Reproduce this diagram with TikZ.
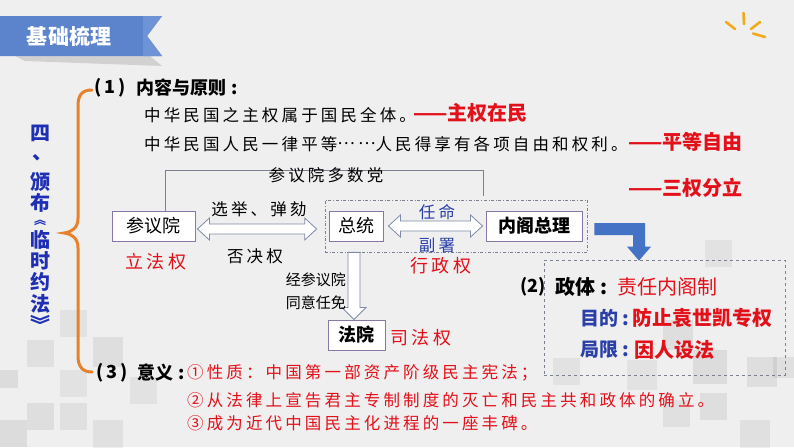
\documentclass[tikz,border=0pt]{standalone}
\usepackage{fontspec}
\setmainfont{Noto Sans CJK SC}
\newfontfamily\cjks{Noto Sans CJK SC}[LetterSpace=19]
\usetikzlibrary{calc}
\newcommand\fsz[1]{\fontsize{#1}{#1}\selectfont}
\definecolor{bgc}{HTML}{EFEFEF}
\definecolor{bannerc}{HTML}{5B84CC}
\definecolor{bannerd}{HTML}{6E93D6}
\definecolor{sunc}{HTML}{F2A91C}
\definecolor{bracec}{HTML}{E8812C}
\definecolor{titlec}{HTML}{1E2FB5}
\definecolor{redc}{HTML}{E3101A}
\definecolor{lblue}{HTML}{2A40A8}
\definecolor{boxc}{HTML}{8878A8}
\definecolor{linec}{HTML}{7A8090}
\definecolor{arrc}{HTML}{7F8AA8}
\definecolor{bluearr}{HTML}{4472C4}
\newcommand\hdarrow[2]{\path[harrow] let \p1=(#1), \p2=(#2) in
  (\x1,\y1) -- (\x1+12pt,\y1+11pt) -- (\x1+12pt,\y1+5pt) -- (\x2-12pt,\y2+5pt) -- (\x2-12pt,\y2+11pt) -- (\x2,\y2)
  -- (\x2-12pt,\y2-11pt) -- (\x2-12pt,\y2-5pt) -- (\x1+12pt,\y1-5pt) -- (\x1+12pt,\y1-11pt) -- cycle;}
\begin{document}
\begin{tikzpicture}[x=1pt,y=-1pt,
  txt/.style={inner sep=0, font=\cjks\fsz{16.5}},
  boxn/.style={draw=boxc, line width=0.9pt, fill=white, inner sep=0, font=\fsz{18}},
  harrow/.style={draw=arrc, line width=0.8pt, fill=white},
  redb/.style={inner sep=0, text=redc, font=\bfseries\fsz{20}},
  sq/.style={fill=black, opacity=0.07}]
\useasboundingbox (0,0) rectangle (794,447);
\fill[bgc] (0,0) rectangle (794,447);
% faint squares
\foreach \x/\y/\s/\o in {0/370/18/0.08, 27/340/27/0.06, 60/310/27/0.05, 93/337/30/0.07, 60/370/27/0.05, 27/403/27/0.07, 60/403/27/0.06, 130/377/27/0.05, 0/420/27/0.08, 93/420/30/0.06,
  663/320/30/0.07, 693/350/34/0.08, 747/357/30/0.07, 773/357/21/0.06, 700/393/27/0.07, 663/400/27/0.06, 627/360/30/0.05, 553/358/27/0.05, 705/240/27/0.05, 740/420/30/0.06}
  \fill[sq, opacity=\o] (\x,\y) rectangle ++(\s,\s);
% banner
\fill[black, opacity=0.12] (15,56) -- (150,56) -- (162,66) -- (25,61) -- cycle;
\fill[bannerc] (0,16) -- (162,16) -- (147,36) -- (162,56) -- (0,56) -- cycle;
\fill[bannerd] (143,16) -- (162,16) -- (147,36) -- (162,56) -- (143,56) -- cycle;
\node[inner sep=0, text=white, font=\bfseries\fsz{21}] (ban) at (69,36) {基础梳理};
% sun icon
\draw[sunc, line width=2.6pt, line cap=round] (726,22) -- (735,29) (743.5,13) -- (744,24) (751,29) -- (760,22) (753,33.5) -- (765,37);
% brace
\draw[bracec, line width=3pt, line cap=round] (92,90) .. controls (82,90) and (78,95) .. (78,106) -- (78,218)
  .. controls (78,228) and (72,232) .. (64,233) .. controls (72,234) and (78,238) .. (78,248) -- (78,356)
  .. controls (78,366) and (82,372) .. (92,372);
% vertical title
\begin{scope}[every node/.style={inner sep=0, text=titlec, font=\bfseries\fsz{20}}]
\node (t1) at (40,133) {四};
\node (t2) at (42,158) {、};
\node (t3) at (40,182) {颁};
\node (t4) at (40,203) {布};
\node[font=\bfseries\fsz{12}] (t4b) at (40,223) {︽};
\node (t5) at (40,240) {临};
\node (t6) at (40,261) {时};
\node (t7) at (40,282) {约};
\node (t8) at (40,304) {法};
\node (t9) at (40,324) {︾};
\end{scope}
% (1)
\node[inner sep=0, anchor=west, font=\bfseries\fsz{18}] (h1n) at (94,88) {(\,1\,)};
\node[inner sep=0, anchor=west, font=\bfseries\fsz{18}] (h1) at (136,88) {内容与原则\hspace{5pt}:};
\node[txt, anchor=west] (l1) at (144,115) {中华民国之主权属于国民全体。};
\node[redb, anchor=west] (r1) at (413,113) {——主权在民};
\node[txt, anchor=west] (l2) at (144,144) {中华民国人民一律平等\raisebox{5.5pt}{……}人民得享有各项自由和权利。};
\node[redb, anchor=west] (r2) at (628,142) {——平等自由};
\node[redb, anchor=west] (r3) at (628,188) {——三权分立};
% diagram boxes
\node[boxn, minimum width=83, minimum height=30] (sy) at (153.5,226) {参议院};
\node[boxn, minimum width=54, minimum height=30] (zt) at (356,226) {总统};
\node[boxn, minimum width=96, minimum height=30, font=\bfseries\fsz{18}] (ng) at (534,226) {内阁总理};
\node[boxn, minimum width=57, minimum height=30, font=\bfseries\fsz{18}] (fy) at (356.5,335) {法院};
\node[draw=linec, dash dot, line width=0.7pt, minimum width=262, minimum height=52, inner sep=0] (xz) at (456,226) {};
% top connector
\coordinate (c1) at (483,170);
\draw[linec, line width=0.6pt] ($(sy.north)+(11.5,0)$) |- (c1) -- ($(c1 |- xz.north)+(0,-4)$);
\node[txt] (dsd) at (326,175) {参议院多数党};
% double arrows
\coordinate (a1) at ($(sy.east)+(2,3)$);
\coordinate (a2) at ($(xz.west)+(-8,3)$);
\hdarrow{a1}{a2}
\coordinate (b1) at ($(zt.east)+(5,0)$);
\coordinate (b2) at ($(ng.west)+(-3,0)$);
\hdarrow{b1}{b2}
\node[txt] (xj) at (259,209) {选举、弹劾};
\node[txt] (fj) at (255,256) {否决权};
\node[txt, text=lblue] (rm) at (437,212) {任命};
\node[txt, text=lblue] (fs) at (437,245) {副署};
\node[txt, text=redc, font=\cjks\fsz{18}] (lf) at (156,262) {立法权};
\node[txt, text=redc, font=\cjks\fsz{18}] (xzq) at (441,266) {行政权};
\node[txt, text=redc, font=\cjks\fsz{18}] (sf) at (421,338) {司法权};
% down arrow
\path[harrow] let \p1=($(xz.south -| zt.south)+(-2,0)$), \p2=($(fy.north)+(-2.5,0)$) in
  (\x1-6pt,\y1) -- (\x1+6pt,\y1) -- (\x1+6pt,\y2+12pt) -- (\x1+12pt,\y2+12pt) -- (\x1,\y2)
  -- (\x1-12pt,\y2+12pt) -- (\x1-6pt,\y2+12pt) -- cycle;
\node[inner sep=0, anchor=east, font=\fsz{15}] (jc1) at (346,280) {经参议院};
\node[inner sep=0, anchor=east, font=\fsz{15}] (jc2) at (346,303) {同意任免};
% (2) box
\node[draw=linec, dashed, line width=0.7pt, minimum width=241, minimum height=115, inner sep=0] (zb) at (664.5,317.5) {};
\fill[bluearr] let \p1=($(ng.east)+(12,3)$), \p2=($(zb.north)+(-25.5,1)$) in
  (\x1,\y1+6pt) -- (\x2+6pt,\y1+6pt) -- (\x2+6pt,\y2+14pt) -- (\x2+12pt,\y2+14pt) -- (\x2,\y2)
  -- (\x2-12pt,\y2+14pt) -- (\x2-6pt,\y2+14pt) -- (\x2-6pt,\y1-6pt) -- (\x1,\y1-6pt) -- cycle;
\node[inner sep=0, anchor=west, font=\bfseries\fsz{18}] (h2n) at (520,287) {(2)};
\node[inner sep=0, anchor=west, font=\bfseries\fsz{20}] (zt2) at (555,287) {政体\hspace{5pt}:};
\node[inner sep=0, anchor=west, text=redc, font=\fsz{20}] (zr) at (617,287) {责任内阁制};
\node[inner sep=0, anchor=west, text=lblue, font=\bfseries\fsz{19}] (md) at (580,318) {目的\hspace{4pt}:};
\node[redb, anchor=west] (mdr) at (632,318) {防止袁世凯专权};
\node[inner sep=0, anchor=west, text=lblue, font=\bfseries\fsz{19}] (jx) at (580,350) {局限\hspace{4pt}:};
\node[redb, anchor=west] (jxr) at (634,350) {因人设法};
% (3)
\node[inner sep=0, anchor=west, font=\bfseries\fsz{18}] (h3n) at (96,373) {(\,3\,)};
\node[inner sep=0, anchor=west, font=\bfseries\fsz{18}] (h3) at (137,373) {意义\hspace{5pt}:};
\node[txt, anchor=west, text=redc] (y1) at (187,373) {①性质：中国第一部资产阶级民主宪法；};
\node[txt, anchor=west, text=redc] (y2) at (187,400) {②从法律上宣告君主专制制度的灭亡和民主共和政体的确立。};
\node[txt, anchor=west, text=redc] (y3) at (187,423) {③成为近代中国民主化进程的一座丰碑。};
\end{tikzpicture}
\end{document}
